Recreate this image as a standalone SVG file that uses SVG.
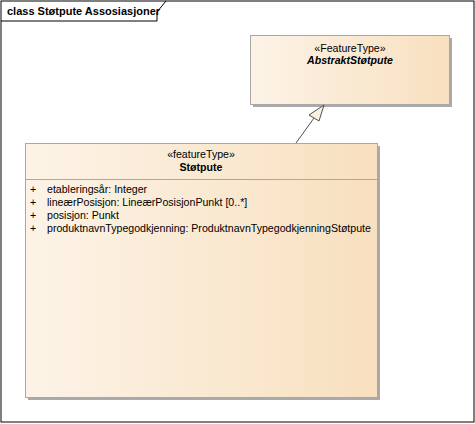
<svg xmlns="http://www.w3.org/2000/svg" width="475" height="424" viewBox="0 0 475 424">
<defs>
<linearGradient id="g" x1="0" y1="0" x2="1" y2="0">
<stop offset="0" stop-color="#FCF3E7"/>
<stop offset="1" stop-color="#F8E0BF"/>
</linearGradient>
<style>
text{font-family:"Liberation Sans",Arial,sans-serif;font-size:10.6px;fill:#000}
.t{font-weight:bold;font-size:11px}
.c{text-anchor:middle}
.b{font-weight:bold}
.i{font-weight:bold;font-style:italic}
.box{fill:url(#g);stroke:#A8A8A8;stroke-width:1}
.sh{fill:#AAAAAA}
</style>
</defs>
<rect x="1" y="1" width="473" height="421" fill="#fff" stroke="#000" stroke-width="1"/>
<path d="M1,21 H157 V12 L166,1" fill="none" stroke="#000" stroke-width="1"/>
<text class="t" x="7" y="15">class Støtpute Assosiasjoner</text>
<g id="AbstraktStotpute">
<rect class="sh" x="253" y="38" width="199" height="69"/>
<rect class="box" x="250.5" y="35.5" width="199" height="69"/>
<text class="c" x="350" y="52">«FeatureType»</text>
<text class="c i" x="350" y="64">AbstraktStøtpute</text>
</g>
<g id="Stotpute">
<rect class="sh" x="28" y="146" width="352" height="254"/>
<rect class="box" x="25.5" y="143.5" width="352" height="254"/>
<line x1="25.5" y1="179.5" x2="377.5" y2="179.5" stroke="#A8A8A8"/>
<text class="c" x="201" y="158">«featureType»</text>
<text class="c b" x="201" y="171">Støtpute</text>
<text x="30" y="193">+</text><text x="47" y="193">etableringsår: Integer</text>
<text x="30" y="206">+</text><text x="47" y="206">lineærPosisjon: LineærPosisjonPunkt [0..*]</text>
<text x="30" y="219">+</text><text x="47" y="219">posisjon: Punkt</text>
<text x="30" y="232">+</text><text x="47" y="232">produktnavnTypegodkjenning: ProduktnavnTypegodkjenningStøtpute</text>
</g>
<g id="connectors">
<line x1="296" y1="143" x2="314" y2="118" stroke="#505050" stroke-width="1"/>
<path d="M324,105 L309,115 L319,121 Z" fill="#FDF0DF" stroke="#505050" stroke-width="1"/>
</g>
</svg>
